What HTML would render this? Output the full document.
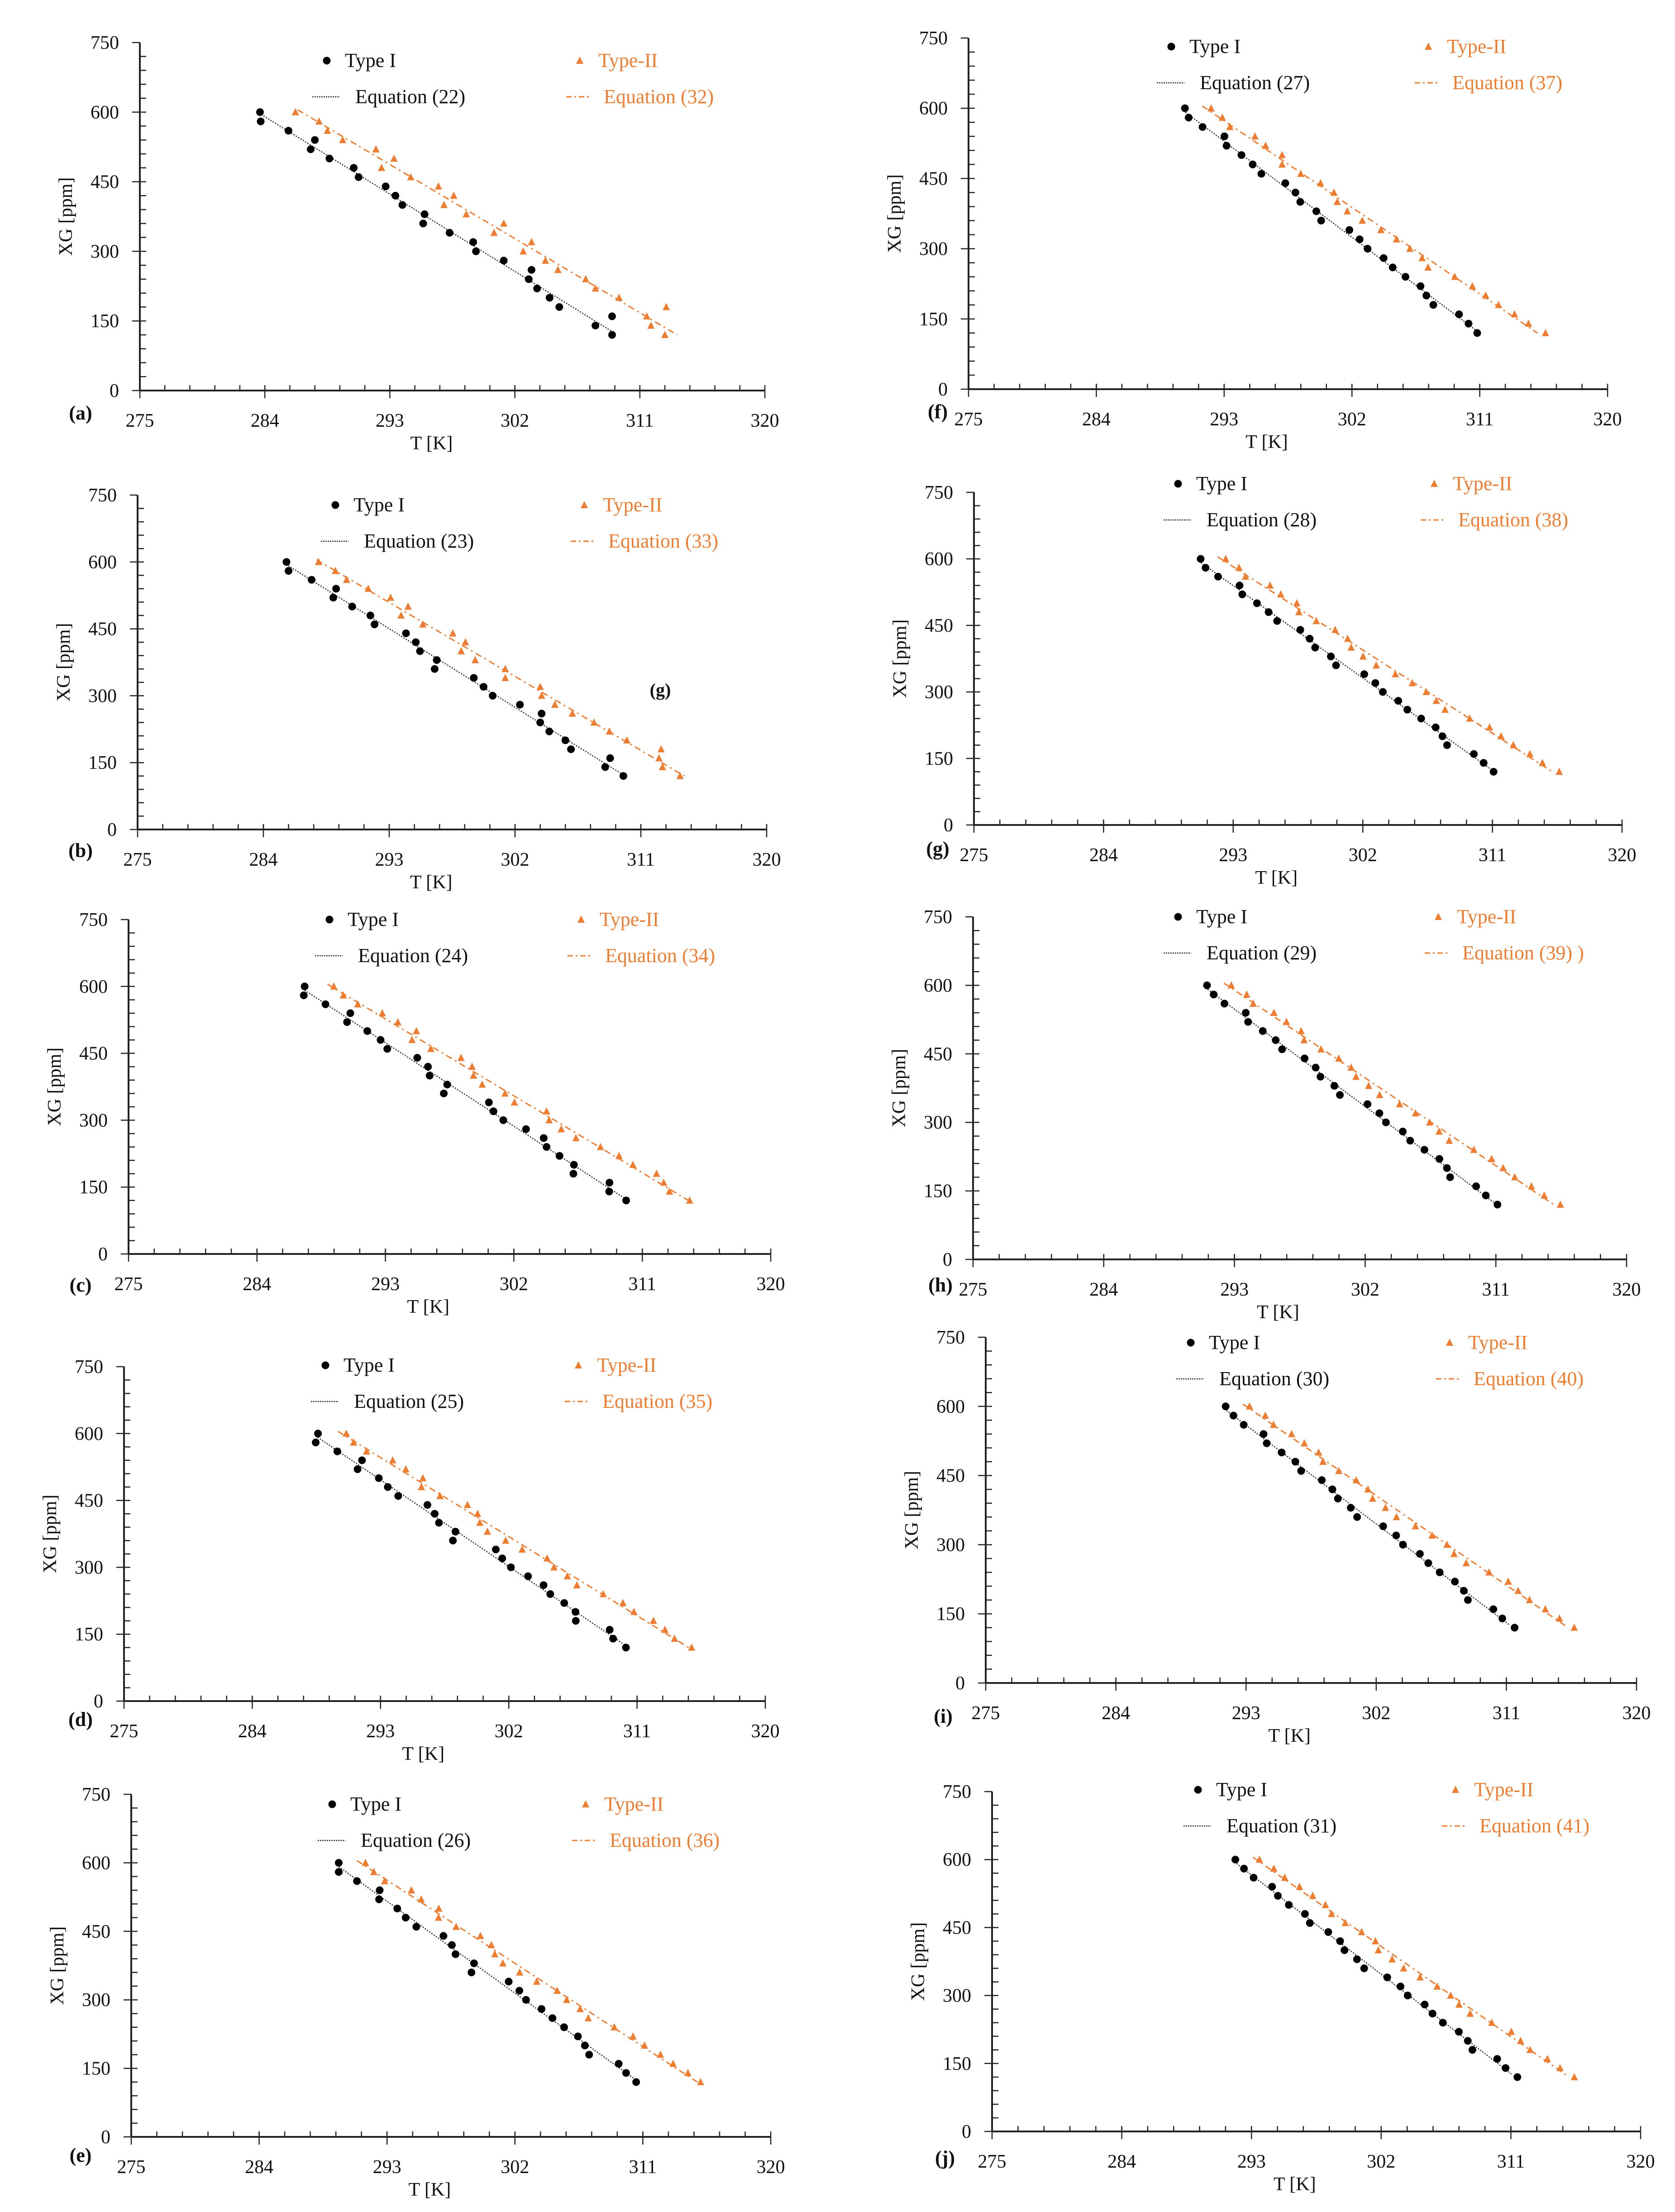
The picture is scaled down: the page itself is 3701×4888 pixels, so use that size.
<!DOCTYPE html>
<html><head><meta charset="utf-8"><style>
html,body{margin:0;padding:0;background:#fff;}
svg{display:block;font-family:"Liberation Serif",serif;}
</style></head><body>
<svg id="fig" xmlns="http://www.w3.org/2000/svg" width="3701" height="4888" viewBox="0 0 3701 4888"></svg>
<script>
const xgLevels=[600,580,560,540,520,500,480,460,440,420,400,380,360,340,320,300,280,260,240,220,200,180,160,140,120];
const xTickLabels=[275,284,293,302,311,320];
const yTickLabels=[0,150,300,450,600,750];
const eqI=["22","23","24","25","26","27","28","29","30","31"];
const eqII=["32","33","34","35","36","37","38","39) )","40","41"];
const panelIds=["a","b","c","d","e","f","g","h","i","j"];

const tI_a=[283.65,283.7,285.7,287.6,287.3,288.65,290.4,290.75,292.7,293.4,293.9,295.5,295.4,297.3,299.0,299.2,301.2,303.2,303.0,303.6,304.5,305.2,309.0,307.8,309.0];
const tII_a=[286.2,287.9,288.5,289.6,292.0,293.3,292.4,294.5,296.5,297.6,296.9,298.5,301.2,300.5,303.2,302.6,304.2,305.1,307.1,307.8,309.5,312.9,311.5,311.8,312.8];
const tI_b=[285.65,285.8,287.45,289.2,289.0,290.35,291.65,291.95,294.2,294.9,295.2,296.4,296.25,299.05,299.75,300.4,302.35,303.9,303.8,304.45,305.6,306.0,308.8,308.45,309.75];
const tII_b=[287.95,289.15,289.95,291.5,293.1,294.35,293.85,295.4,297.55,298.45,298.15,299.15,301.3,301.3,303.8,303.9,304.85,306.1,307.65,308.75,310.0,312.45,312.3,312.55,313.8];
const tI_c=[287.34,287.28,288.8,290.54,290.31,291.73,292.66,293.13,295.23,295.98,296.1,297.33,297.09,300.25,300.57,301.26,302.85,304.09,304.29,305.2,306.21,306.17,308.7,308.68,309.87];
const tII_c=[289.38,290.05,291.06,292.78,293.87,295.17,294.86,296.18,298.3,299.07,299.17,299.78,301.38,302.04,304.29,304.47,305.32,306.35,308.07,309.37,310.34,312.0,312.5,312.9,314.32];
const tI_d=[288.61,288.45,289.97,291.7,291.39,292.88,293.51,294.24,296.29,296.8,297.1,298.26,298.08,301.09,301.54,302.15,303.35,304.44,304.91,305.89,306.68,306.7,309.08,309.32,310.22];
const tII_d=[290.6,291.11,292.02,293.85,294.77,295.97,295.87,297.17,299.1,299.81,299.97,300.5,301.78,302.94,304.69,305.17,306.11,306.78,308.63,310.01,310.78,312.15,312.96,313.63,314.83];
const tI_e=[289.6,289.6,290.88,292.48,292.44,293.72,294.31,295.06,296.97,297.56,297.82,299.12,298.94,301.56,302.31,302.78,303.87,304.64,305.46,306.43,306.92,307.22,309.3,309.82,310.53];
const tII_e=[291.48,292.07,292.83,294.71,295.4,296.64,296.62,297.86,299.57,300.34,300.58,301.15,302.33,303.53,304.97,305.64,306.59,307.16,308.99,310.31,311.12,312.24,313.13,314.17,315.06];
const tI_f=[290.24,290.5,291.48,293.02,293.17,294.22,295.01,295.62,297.31,298.02,298.36,299.49,299.83,301.82,302.54,303.1,304.23,304.87,305.77,306.83,307.24,307.73,309.54,310.21,310.82];
const tII_f=[292.08,292.87,293.4,295.17,295.92,297.08,297.08,298.4,299.79,300.73,300.96,301.67,302.73,304.04,305.14,306.08,306.94,307.36,309.24,310.48,311.42,312.32,313.45,314.43,315.63];
const tI_g=[290.74,291.08,291.95,293.44,293.63,294.65,295.46,296.05,297.66,298.31,298.69,299.78,300.14,302.1,302.87,303.39,304.46,305.09,306.05,307.06,307.53,307.85,309.71,310.39,311.08];
const tII_g=[292.48,293.4,293.85,295.56,296.31,297.42,297.56,298.77,300.08,300.95,301.19,302.02,302.93,304.26,305.43,306.4,307.1,307.71,309.42,310.8,311.6,312.45,313.6,314.47,315.64];
const tI_h=[291.11,291.57,292.31,293.78,293.94,294.95,295.84,296.28,297.83,298.59,298.92,299.88,300.26,302.16,302.98,303.43,304.59,305.1,306.08,307.11,307.63,307.85,309.64,310.31,311.11];
const tII_h=[292.78,293.84,294.29,295.72,296.58,297.59,297.79,298.96,300.18,301.03,301.37,302.24,303.0,304.37,305.46,306.44,307.09,307.79,309.48,310.71,311.5,312.3,313.45,314.33,315.44];
const tI_i=[291.59,292.13,292.84,294.21,294.43,295.46,296.41,296.81,298.24,298.97,299.35,300.24,300.68,302.48,303.38,303.85,305.02,305.6,306.39,307.44,308.06,308.34,310.1,310.72,311.57];
const tII_i=[293.24,294.33,294.9,296.15,297.03,298.02,298.32,299.41,300.62,301.43,301.75,302.64,303.4,304.71,305.86,306.89,307.38,308.22,309.8,311.13,311.81,312.6,313.69,314.67,315.69];
const tI_j=[291.88,292.48,293.15,294.43,294.83,295.59,296.71,297.05,298.33,299.15,299.45,300.32,300.82,302.42,303.34,303.84,305.02,305.56,306.28,307.39,308.01,308.33,310.05,310.63,311.45];
const tII_j=[293.55,294.55,295.31,296.33,297.25,298.13,298.55,299.51,300.64,301.6,301.8,302.76,303.56,304.7,305.88,306.82,307.4,308.17,309.67,311.03,311.67,312.33,313.53,314.41,315.4];

const seriesI=[tI_a,tI_b,tI_c,tI_d,tI_e,tI_f,tI_g,tI_h,tI_i,tI_j];
const seriesII=[tII_a,tII_b,tII_c,tII_d,tII_e,tII_f,tII_g,tII_h,tII_i,tII_j];

// layout (pixel geometry, not data)
const layout=[
 {x0:309,x1:1690,yTop:94,yBot:863,lm:722,lt:1281,ly:134,lab:[178,913]},
 {x0:304,x1:1694,yTop:1094,yBot:1833,lm:741,lt:1291,ly:1116,lab:[178,1880]},
 {x0:284,x1:1703,yTop:2032,yBot:2771,lm:728,lt:1284,ly:2032,lab:[178,2840]},
 {x0:274,x1:1691,yTop:3020,yBot:3759,lm:719,lt:1278,ly:3017,lab:[178,3800]},
 {x0:290,x1:1703,yTop:3965,yBot:4722,lm:734,lt:1294,ly:3987,lab:[178,4763]},
 {x0:2140,x1:3552,yTop:84,yBot:860,lm:2588,lt:3156,ly:103,lab:[2072,910]},
 {x0:2152,x1:3584,yTop:1088,yBot:1823,lm:2603,lt:3169,ly:1069,lab:[2072,1876]},
 {x0:2150,x1:3594,yTop:2026,yBot:2783,lm:2603,lt:3178,ly:2026,lab:[2078,2840]},
 {x0:2178,x1:3616,yTop:2955,yBot:3719,lm:2631,lt:3203,ly:2967,lab:[2084,3793]},
 {x0:2192,x1:3625,yTop:3959,yBot:4710,lm:2647,lt:3216,ly:3955,lab:[2088,4769]}
];
const ORANGE="#ED7D31";
const NS="http://www.w3.org/2000/svg";
const svg=document.getElementById('fig');
function mk(tag,attrs,parent){const e=document.createElementNS(NS,tag);for(const k in attrs)e.setAttribute(k,attrs[k]);(parent||svg).appendChild(e);return e;}
function fit(ts){const n=ts.length;let mx=0,my=0;for(let i=0;i<n;i++){mx+=xgLevels[i];my+=ts[i];}mx/=n;my/=n;let sxy=0,sxx=0;for(let i=0;i<n;i++){sxy+=(xgLevels[i]-mx)*(ts[i]-my);sxx+=(xgLevels[i]-mx)**2;}const b=sxy/sxx;return v=>my+b*(v-mx);}

layout.forEach((L,pi)=>{
  const g=mk('g',{});
  
  
  const X=t=>L.x0+(t-275)/45*(L.x1-L.x0);
  const Y=v=>L.yBot-v/750*(L.yBot-L.yTop);
  // minor ticks
  for(let k=1;k<25;k++){const t=275+k*1.8;const tk=mk('line',{x1:X(t),x2:X(t),y1:L.yBot,y2:L.yBot-12,stroke:'#222','stroke-width':2.5},g);
    }
  for(let k=1;k<25;k++){const v=k*30;const tk=mk('line',{x1:L.x0,x2:L.x0+14,y1:Y(v),y2:Y(v),stroke:'#222','stroke-width':2.5},g);
    }
  xTickLabels.forEach(t=>{
    const tk=mk('line',{x1:X(t),x2:X(t),y1:L.yBot-12,y2:L.yBot+17,stroke:'#222','stroke-width':2.5},g);
    
    const tx=mk('text',{x:X(t),y:L.yBot+80,'text-anchor':'middle','font-size':42,fill:'#111'},g);tx.textContent=t;
    
  });
  yTickLabels.forEach(v=>{
    const tk=mk('line',{x1:L.x0-17,x2:L.x0,y1:Y(v),y2:Y(v),stroke:'#222','stroke-width':2.5},g);
    
    const tx=mk('text',{x:L.x0-46,y:Y(v)+14,'text-anchor':'end','font-size':42,fill:'#111'},g);tx.textContent=v;
    
  });
  const ax=mk('line',{x1:L.x0,x2:L.x1,y1:L.yBot,y2:L.yBot,stroke:'#222','stroke-width':4},g);
  
  const ay=mk('line',{x1:L.x0,x2:L.x0,y1:L.yTop,y2:L.yBot,stroke:'#222','stroke-width':4},g);
  
  const xt=mk('text',{x:X(296),y:L.yBot+130,'text-anchor':'middle','font-size':42,fill:'#111'},g);xt.textContent='T [K]';
  
  const ym=(L.yTop+L.yBot)/2;
  const yt=mk('text',{x:L.x0-150,y:ym,'text-anchor':'middle','font-size':42,fill:'#111',transform:`rotate(-90 ${L.x0-150} ${ym})`},g);yt.textContent='XG [ppm]';
  
  const pl=mk('text',{x:L.lab[0],y:L.lab[1]+14,'text-anchor':'middle','font-size':44,'font-weight':'bold',fill:'#111'},g);pl.textContent='('+panelIds[pi]+')';
  
  // fit lines
  const fI=fit(seriesI[pi]),fII=fit(seriesII[pi]);
  const l1=mk('line',{x1:X(fI(595)),y1:Y(595),x2:X(fI(125)),y2:Y(125),stroke:'#333','stroke-width':2.5,'stroke-dasharray':'3 3'},g);
  
  const l2=mk('line',{x1:X(fII(605)),y1:Y(605),x2:X(fII(120)),y2:Y(120),stroke:ORANGE,'stroke-width':3,'stroke-dasharray':'14 8 4 8'},g);
  
  // points
  seriesI[pi].forEach((t,i)=>{const c=mk('circle',{cx:X(t),cy:Y(xgLevels[i]),r:8.5,fill:'#000'},g);
    });
  seriesII[pi].forEach((t,i)=>{const cx=X(t),cy=Y(xgLevels[i]);
    const p=mk('polygon',{points:`${cx},${cy-9} ${cx-8},${cy+7} ${cx+8},${cy+7}`,fill:ORANGE},g);
    });
  // legend
  const lm=L.lm,lt=L.lt,ly=L.ly,ly2=L.ly+80;
  const m1=mk('circle',{cx:lm,cy:ly,r:8.5,fill:'#000'},g);
  const t1=mk('text',{x:lm+40,y:ly+14,'font-size':44,fill:'#111'},g);t1.textContent='Type I';
  const e1=mk('line',{x1:lm-32,x2:lm+29,y1:ly2,y2:ly2,stroke:'#333','stroke-width':2.5,'stroke-dasharray':'3 2'},g);
  const et1=mk('text',{x:lm+63,y:ly2+14,'font-size':44,fill:'#111'},g);et1.textContent='Equation ('+eqI[pi]+')';
  const m2=mk('polygon',{points:`${lt},${ly-9} ${lt-8},${ly+7} ${lt+8},${ly+7}`,fill:ORANGE},g);
  const t2=mk('text',{x:lt+41,y:ly+14,'font-size':44,fill:ORANGE},g);t2.textContent='Type-II';
  const e2=mk('line',{x1:lt-30,x2:lt+24,y1:ly2,y2:ly2,stroke:ORANGE,'stroke-width':3,'stroke-dasharray':'12 6 4 6'},g);
  const et2=mk('text',{x:lt+53,y:ly2+14,'font-size':44,fill:ORANGE},g);et2.textContent='Equation ('+eqII[pi]+(eqII[pi].indexOf(')')<0?')':'');
});
const stray=mk('text',{x:1459,y:1538,'text-anchor':'middle','font-size':40,'font-weight':'bold',fill:'#111'});
stray.textContent='(g)';


</script>
</body></html>
